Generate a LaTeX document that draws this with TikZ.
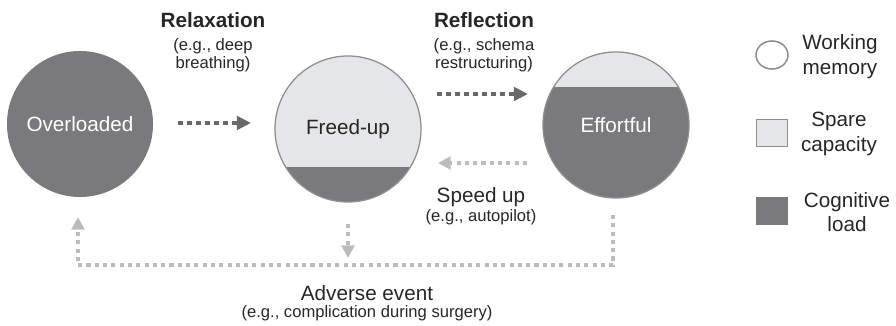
\documentclass[tikz,border=0pt]{standalone}
\usepackage{fontspec}
\setmainfont{Liberation Sans}
\usetikzlibrary{arrows.meta,shapes.geometric}

\definecolor{loadgray}{HTML}{7A7A7C}
\definecolor{sparegray}{HTML}{E5E6E8}
\definecolor{rimgray}{HTML}{8E8E90}
\definecolor{darkdots}{HTML}{68686A}
\definecolor{lightdots}{HTML}{BBBBBD}
\definecolor{ink}{HTML}{262626}

\begin{document}
\begin{tikzpicture}[x=0.025cm,y=-0.025cm,
  mem/.style={circle,minimum size=3.65cm,inner sep=0pt,font=\fontsize{14.7}{17.6}\selectfont},
  head/.style={font=\bfseries\fontsize{14.7}{17.6}\selectfont,text=ink},
  big/.style={font=\fontsize{14.7}{17.6}\selectfont,align=center,text=ink},
  small/.style={font=\fontsize{11.8}{12.4}\selectfont,align=center,text=ink},
  darkflow/.style={draw=darkdots,line width=2.9pt,dash pattern=on 3.4pt off 3pt,-{Triangle[length=10pt,width=9.5pt]}},
  lightflow/.style={draw=lightdots,line width=2.8pt,dash pattern=on 2.9pt off 3pt,-{Triangle[length=9pt,width=9pt]}},
  key/.style={minimum width=0.78cm,minimum height=0.68cm,inner sep=0pt}]

\useasboundingbox (0,0) rectangle (896,326);

\node[mem,fill=loadgray,text=white] (over) at (80,124) {Overloaded};
\node[mem,fill=sparegray,draw=rimgray,line width=0.9pt,text=ink,
  path picture={\fill[loadgray] (path picture bounding box.south west) rectangle ([yshift=0.875cm]path picture bounding box.south east);}] (freed) at (348,129) {Freed-up};
\node[mem,fill=loadgray,draw=rimgray,line width=0.9pt,text=white,
  path picture={\fill[sparegray] (path picture bounding box.north west) rectangle ([yshift=-0.875cm]path picture bounding box.north east);}] (effort) at (616,125) {Effortful};

\node[head] (relax) at (213,20) {Relaxation};
\node[small] (relax-eg) at (213,55) {(e.g., deep\\breathing)};
\node[head] (reflect) at (484,20) {Reflection};
\node[small] (reflect-eg) at (484,55) {(e.g., schema\\restructuring)};
\node[big] (speed) at (481,197) {Speed up};
\node[small] (speed-eg) at (481,217) {(e.g., autopilot)};
\node[big] (adverse) at (367,293) {Adverse event};
\node[small] (adverse-eg) at (367,313) {(e.g., complication during surgery)};

\coordinate (relax-a) at (178,123);
\coordinate (relax-b) at (251,123);
\coordinate (reflect-a) at (437,94);
\coordinate (reflect-b) at (528,94);
\coordinate (speed-a) at (527,163);
\coordinate (speed-b) at (438,163);
\coordinate (loop-a) at (613,215);
\coordinate (loop-c) at (613,265);
\coordinate (loop-b) at (78,217);
\coordinate (drop-a) at (348,224);
\coordinate (drop-b) at (348,258);

\draw[darkflow] (relax-a) -- (relax-b);
\draw[darkflow] (reflect-a) -- (reflect-b);
\draw[lightflow] (speed-a) -- (speed-b);
\draw[lightflow] (loop-a) -- (loop-c) -| (loop-b);
\draw[lightflow] (drop-a) -- (drop-b);

\node[ellipse,draw=rimgray,line width=1.1pt,minimum width=0.8cm,minimum height=0.7cm,inner sep=0pt] (wm-key) at (772,55) {};
\node[key,draw=rimgray,line width=1pt,fill=sparegray] (spare-key) at (772,133) {};
\node[key,fill=loadgray] (load-key) at (772,211) {};
\node[big] (wm) at (840,57) {Working\\memory};
\node[big] (spare) at (839,134) {Spare\\capacity};
\node[big] (load) at (847,212) {Cognitive\\load};
\end{tikzpicture}
\end{document}
